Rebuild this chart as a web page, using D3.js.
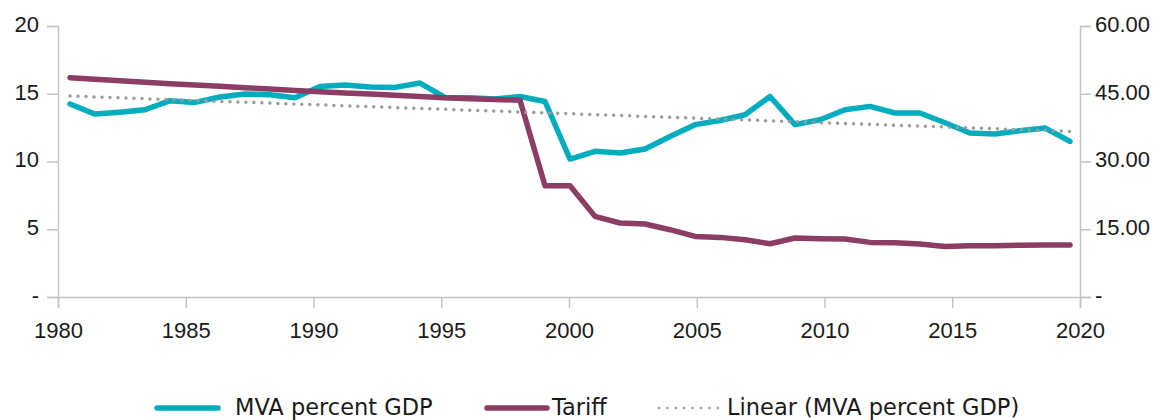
<!DOCTYPE html>
<html>
<head>
<meta charset="utf-8">
<script src="https://cdn.jsdelivr.net/npm/d3@7"></script>
<style>
  body { margin: 0; background: #fff; }
  svg { display: block; font-family: "DejaVu Sans", sans-serif; }
</style>
</head>
<body>
<div id="chart"></div>
<script>
// years on the data axis
var years = [1980, 1981, 1982, 1983, 1984, 1985, 1986, 1987, 1988, 1989,
    1990, 1991, 1992, 1993, 1994, 1995, 1996, 1997, 1998, 1999,
    2000, 2001, 2002, 2003, 2004, 2005, 2006, 2007, 2008, 2009,
    2010, 2011, 2012, 2013, 2014, 2015, 2016, 2017, 2018, 2019, 2020];

// MVA percent GDP (left axis)
var mva = [14.24, 13.5, 13.64, 13.82, 14.49, 14.36, 14.76, 14.98, 14.93, 14.7,
    15.54, 15.65, 15.5, 15.47, 15.79, 14.73, 14.7, 14.61, 14.8, 14.43,
    10.18, 10.75, 10.63, 10.92, 11.85, 12.72, 13.03, 13.45, 14.8, 12.72,
    13.08, 13.82, 14.07, 13.58, 13.58, 12.86, 12.1, 12.03, 12.27, 12.47, 11.48];

// Tariff (right axis)
var tariff = [48.55, 48.22, 47.89, 47.56, 47.22, 46.94, 46.65, 46.34, 46.05, 45.74,
    45.45, 45.19, 44.92, 44.66, 44.39, 44.12, 43.9, 43.73, 43.57, 24.64,
    24.64, 17.85, 16.38, 16.16, 14.9, 13.42, 13.2, 12.69, 11.8, 13.06,
    12.91, 12.84, 12.09, 12.02, 11.73, 11.2, 11.36, 11.36, 11.47, 11.51, 11.51];

// linear trend of MVA, start and end
var trendYears = [1980, 2020];
var trendValues = [14.83, 12.22];

var xTicks = [1980, 1985, 1990, 1995, 2000, 2005, 2010, 2015, 2020];
var leftTicks = [0, 5, 10, 15, 20];
var rightTicks = [0, 15, 30, 45, 60];

var svgWidth = 1171;
var svgHeight = 420;

var teal = "#00ADBF";
var maroon = "#8C3D65";
var grey = "#9C9C9C";
var axisColor = "#C4C4C4";

var svg = d3.select("#chart")
    .append("svg")
    .attr("width", svgWidth)
    .attr("height", svgHeight);

// scales
var xAxisScale = d3.scaleLinear().domain([1980, 2020]).range([58, 1080]);
var xScale = d3.scaleLinear().domain([1980, 2020]).range([70, 1070]);
var yLeft = d3.scaleLinear().domain([0, 20]).range([297, 26]);
var yRight = d3.scaleLinear().domain([0, 60]).range([297, 26]);

// axes
var leftAxis = svg.append("g")
    .attr("transform", "translate(58,0)")
    .call(d3.axisLeft(yLeft)
        .tickValues(leftTicks)
        .tickSize(11)
        .tickPadding(8)
        .tickFormat(d => d === 0 ? "-" : d));

var rightAxis = svg.append("g")
    .attr("transform", "translate(1080,0)")
    .call(d3.axisRight(yRight)
        .tickValues(rightTicks)
        .tickSize(11)
        .tickPadding(4)
        .tickFormat(d => d === 0 ? "-" : d3.format(".2f")(d)));

var bottomAxis = svg.append("g")
    .attr("transform", "translate(0,297)")
    .call(d3.axisBottom(xAxisScale)
        .tickValues(xTicks)
        .tickSize(11)
        .tickPadding(14)
        .tickFormat(d3.format("d")));

[leftAxis, rightAxis, bottomAxis].forEach(function (g) {
    g.selectAll("path.domain").attr("stroke", axisColor).attr("stroke-width", 1.5);
    g.selectAll(".tick line").attr("stroke", axisColor).attr("stroke-width", 1.5);
    g.selectAll(".tick text")
        .attr("fill", "#1a1a1a")
        .style("font-size", "22px");
});
leftAxis.selectAll(".tick text").attr("dy", "0.24em");
rightAxis.selectAll(".tick text").attr("dy", "0.24em");

// lines
var mvaLine = d3.line()
    .x((d, i) => xScale(years[i]))
    .y(d => yLeft(d));

var tariffLine = d3.line()
    .x((d, i) => xScale(years[i]))
    .y(d => yRight(d));

var trendLine = d3.line()
    .x((d, i) => xScale(trendYears[i]))
    .y(d => yLeft(d));

svg.append("path")
    .datum(mva)
    .attr("d", mvaLine)
    .attr("fill", "none")
    .attr("stroke", teal)
    .attr("stroke-width", 5.5)
    .attr("stroke-linejoin", "round")
    .attr("stroke-linecap", "round");

svg.append("path")
    .datum(tariff)
    .attr("d", tariffLine)
    .attr("fill", "none")
    .attr("stroke", maroon)
    .attr("stroke-width", 5.5)
    .attr("stroke-linejoin", "round")
    .attr("stroke-linecap", "round");

svg.append("path")
    .datum(trendValues)
    .attr("d", trendLine)
    .attr("fill", "none")
    .attr("stroke", grey)
    .attr("stroke-width", 3.5)
    .attr("stroke-linecap", "round")
    .attr("stroke-dasharray", "0 8");

// legend
var legendItems = [
    { label: "MVA percent GDP", color: teal, x1: 157, x2: 218, tx: 235, dash: null, w: 5.5 },
    { label: "Tariff", color: maroon, x1: 487, x2: 547, tx: 552, dash: null, w: 5.5 },
    { label: "Linear (MVA percent GDP)", color: grey, x1: 659, x2: 718, tx: 727, dash: "0 8.4", w: 2.6 }
];

var legend = svg.append("g");
legendItems.forEach(function (item) {
    legend.append("line")
        .attr("x1", item.x1)
        .attr("x2", item.x2)
        .attr("y1", 408)
        .attr("y2", 408)
        .attr("stroke", item.color)
        .attr("stroke-width", item.w)
        .attr("stroke-linecap", "round")
        .attr("stroke-dasharray", item.dash);
    legend.append("text")
        .attr("x", item.tx)
        .attr("y", 407)
        .attr("dy", "0.36em")
        .attr("fill", "#1a1a1a")
        .style("font-size", "22.5px")
        .text(item.label);
});
</script>
</body>
</html>
